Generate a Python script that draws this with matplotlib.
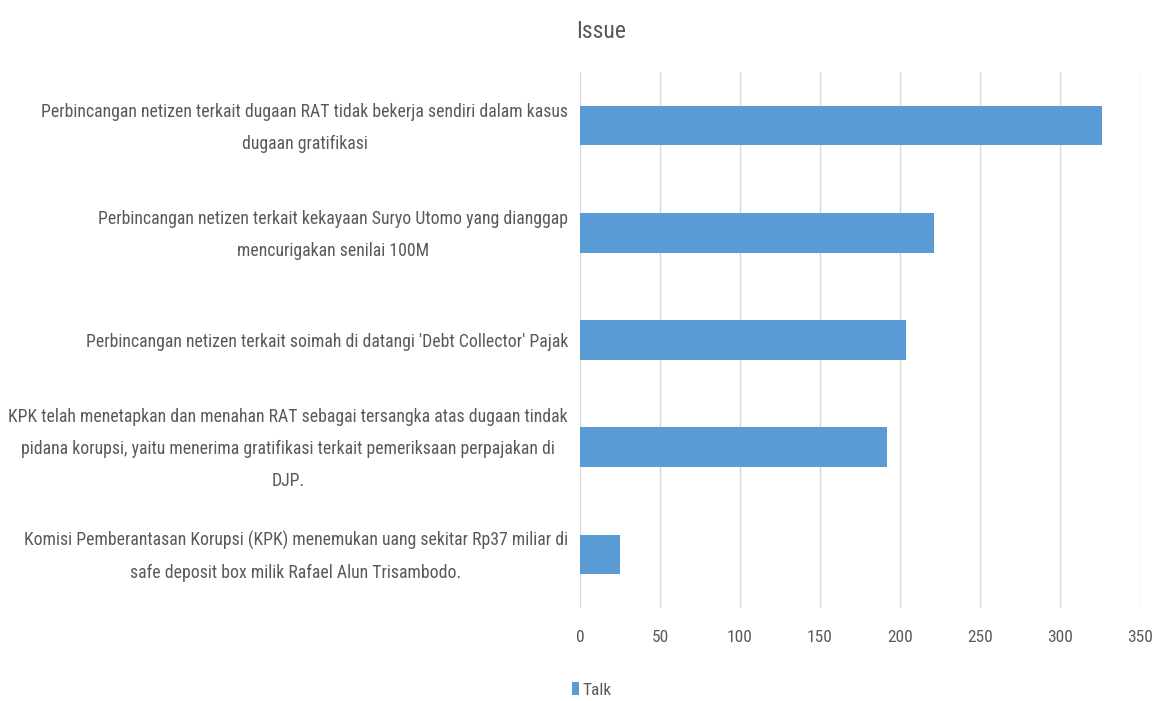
import matplotlib.pyplot as plt
from matplotlib import font_manager

# narrow font first, Lato as fallback
names = set(f.name for f in font_manager.fontManager.ttflist)
fam = 'Lato'
for n in ['Liberation Sans Narrow', 'Roboto Condensed', 'Open Sans Condensed']:
    if n in names:
        fam = n
        break
plt.rcParams['font.family'] = [fam, 'DejaVu Sans']

issues = [
    "Perbincangan netizen terkait dugaan RAT tidak bekerja sendiri dalam kasus\ndugaan gratifikasi",
    "Perbincangan netizen terkait kekayaan Suryo Utomo yang dianggap\nmencurigakan senilai 100M",
    "Perbincangan netizen terkait soimah di datangi 'Debt Collector' Pajak",
    "KPK telah menetapkan dan menahan RAT sebagai tersangka atas dugaan tindak\npidana korupsi, yaitu menerima gratifikasi terkait pemeriksaan perpajakan di\nDJP.",
    "Komisi Pemberantasan Korupsi (KPK) menemukan uang sekitar Rp37 miliar di\nsafe deposit box milik Rafael Alun Trisambodo.",
]
talk = [326, 221, 204, 192, 25]
xticks = [0, 50, 100, 150, 200, 250, 300, 350]

txt = '#595959'
blue = '#5B9BD5'
fs = 11 if fam == 'Lato' else 12.8

fig = plt.figure(figsize=(11.61, 7.01), dpi=100)
ax = fig.add_axes([580 / 1161, 1 - 608 / 701, 560 / 1161, 536 / 701])

pos = list(range(len(issues)))
ax.barh(pos, talk, height=0.37, color=blue, label='Talk', zorder=3)
ax.set_ylim(len(issues) - 0.5, -0.5)
ax.set_xlim(0, 350)

ax.set_xticks(xticks)
ax.set_xticklabels([str(v) for v in xticks], color=txt, fontsize=12.5)
ax.set_yticks(pos)
ax.set_yticklabels([])

# category labels, centred on the bars
for i, lab in zip(pos, issues):
    ax.annotate(lab, xy=(0, i), xycoords=('axes fraction', 'data'),
                xytext=(-8.6, -1.5), textcoords='offset points',
                ha='right', va='center', multialignment='center',
                color=txt, fontsize=fs, linespacing=2.0)

ax.grid(axis='x', color='#d9d9d9', linewidth=1, zorder=0)
for s in ax.spines.values():
    s.set_visible(False)
ax.tick_params(axis='y', length=0)
ax.tick_params(axis='x', length=0, pad=16)

fig.text(601 / 1161, 1 - 31 / 701, 'Issue', ha='center', va='center',
         color=txt, fontsize=17)

fig.legend(loc='center left', bbox_to_anchor=(556 / 1161, 1 - 690 / 701),
           frameon=False, fontsize=12.5, handlelength=0.45, handleheight=0.7,
           handletextpad=0.2, labelcolor=txt)

fig.savefig('out.png', dpi=100, facecolor='white')
